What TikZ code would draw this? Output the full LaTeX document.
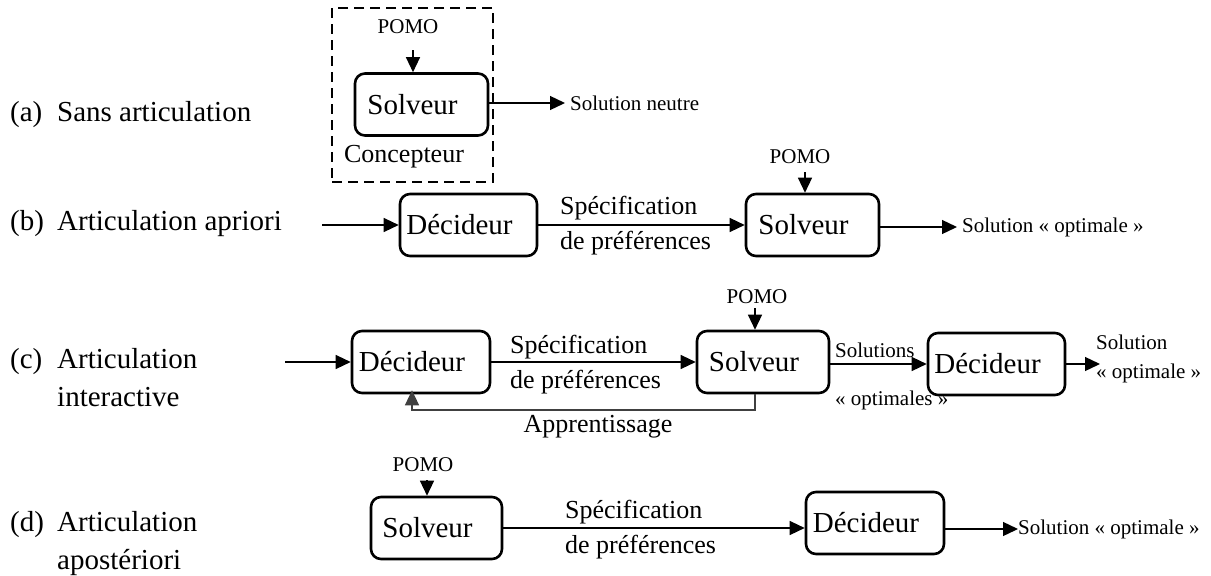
\documentclass[tikz,border=0pt]{standalone}
\usepackage{fontspec}
\setmainfont{Liberation Serif}
\usetikzlibrary{arrows.meta}

% box labels sit a little left of centre
\newcommand{\boxtxt}[1]{#1\kern18pt}

\begin{document}
\begin{tikzpicture}[x=1pt,y=-1pt,
  box/.style={draw, line width=2.6pt, rounded corners=10pt, minimum height=62pt,
    inner sep=0pt, font=\fontsize{29}{34}\selectfont},
  flow/.style={line width=1.3pt, -{Triangle[length=15pt,width=14pt]}},
  small/.style={inner sep=0pt, font=\fontsize{21}{29}\selectfont, align=left},
  lab/.style={inner sep=0pt, font=\fontsize{26}{35}\selectfont, align=left},
  rowlab/.style={inner sep=0pt, anchor=west, font=\fontsize{29}{38}\selectfont}
]
\useasboundingbox (0,0) rectangle (1211,576);

% row titles
\node[rowlab] (ra) at (10,114) {\begin{tabular}{@{}p{47pt}@{}l@{}}(a)&Sans articulation\end{tabular}};
\node[rowlab] (rb) at (10,223) {\begin{tabular}{@{}p{47pt}@{}l@{}}(b)&Articulation apriori\end{tabular}};
\node[rowlab] (rc) at (10,380) {\begin{tabular}{@{}p{47pt}@{}l@{}}(c)&Articulation\\&interactive\end{tabular}};
\node[rowlab] (rd) at (10,543) {\begin{tabular}{@{}p{47pt}@{}l@{}}(d)&Articulation\\&apostériori\end{tabular}};

% (a) no articulation
\node[draw, line width=2.4pt, dash pattern=on 10pt off 6pt, minimum width=161pt,
  minimum height=174pt, inner sep=0pt] (conc) at (412.5,95) {};
\node[lab] (conct) at (404,157) {Concepteur};
\node[box, minimum width=133pt] (sa) at (421.5,104.5) {\boxtxt{Solveur}};
\node[small] (pa) at (408,27) {POMO};
\coordinate (pa0) at (413,50);
\draw[flow] (pa0) -- (pa0 |- sa.north);
\node[small, anchor=west] (oa) at (570,103) {Solution neutre};
\draw[flow, shorten >=5pt] (sa.east |- oa) -- (oa.west);

% (b) a priori articulation
\coordinate (inb) at (322,225);
\node[box, minimum width=137pt] (db) at (468.5,225) {\boxtxt{Décideur}};
\node[box, minimum width=133pt] (sb) at (812.5,225) {\boxtxt{Solveur}};
\draw[flow] (inb) -- (db);
\draw[flow] (db) -- (sb);
\node[lab, anchor=west] (lb) at (560,225.5) {Spécification\\de préférences};
\node[small] (pb) at (800,157) {POMO};
\coordinate (pb0) at (805,172);
\draw[flow] (pb0) -- (pb0 |- sb.north);
\node[small, anchor=west] (ob) at (962,227) {Solution « optimale »};
\draw[flow, shorten >=5pt] (sb.east |- ob) -- (ob.west);

% (c) interactive articulation
\coordinate (inc) at (285,362);
\node[box, minimum width=138pt] (dc) at (421,362) {\boxtxt{Décideur}};
\node[box, minimum width=132pt] (sc) at (763,362) {\boxtxt{Solveur}};
\node[box, minimum width=137pt] (dc2) at (996.5,364) {\boxtxt{Décideur}};
\draw[flow] (inc) -- (dc);
\draw[flow] (dc) -- (sc);
\node[lab, anchor=west] (lc) at (510,365) {Spécification\\de préférences};
\node[small] (pc) at (757,297) {POMO};
\coordinate (pc0) at (755,308);
\draw[flow] (pc0) -- (pc0 |- sc.north);
\draw[flow] (sc.east |- dc2) -- (dc2.west);
\node[small, anchor=west] (sol1) at (835,350) {Solutions};
\node[small, anchor=west] (sol2) at (835,400) {« optimales »};
\coordinate (oct) at (1100,364);
\draw[flow] (dc2) -- (oct);
\node[small, anchor=west] (oc) at (1096,358.5) {Solution\\« optimale »};
\coordinate (fbr) at (755,410);
\coordinate (fbl) at (412,410);
\draw[flow, draw=black!75, shorten >=-4pt] (fbr |- sc.south) -- (fbr) -- (fbl) -- (fbl |- dc.south);
\node[lab] (app) at (598,427) {Apprentissage};

% (d) a posteriori articulation
\node[box, minimum width=131pt] (sd) at (436.5,528) {\boxtxt{Solveur}};
\node[box, minimum width=138pt] (dd) at (875,523) {\boxtxt{Décideur}};
\draw[flow] (sd.east) -- (sd.east -| dd.west);
\node[lab, anchor=west] (ld) at (565,530) {Spécification\\de préférences};
\node[small] (pd) at (423,465) {POMO};
\coordinate (pd0) at (427,480);
\draw[flow] (pd0) -- (pd0 |- sd.north);
\node[small, anchor=west] (od) at (1018,529) {Solution « optimale »};
\draw[flow] (dd.east |- od) -- (od.west);
\end{tikzpicture}
\end{document}
